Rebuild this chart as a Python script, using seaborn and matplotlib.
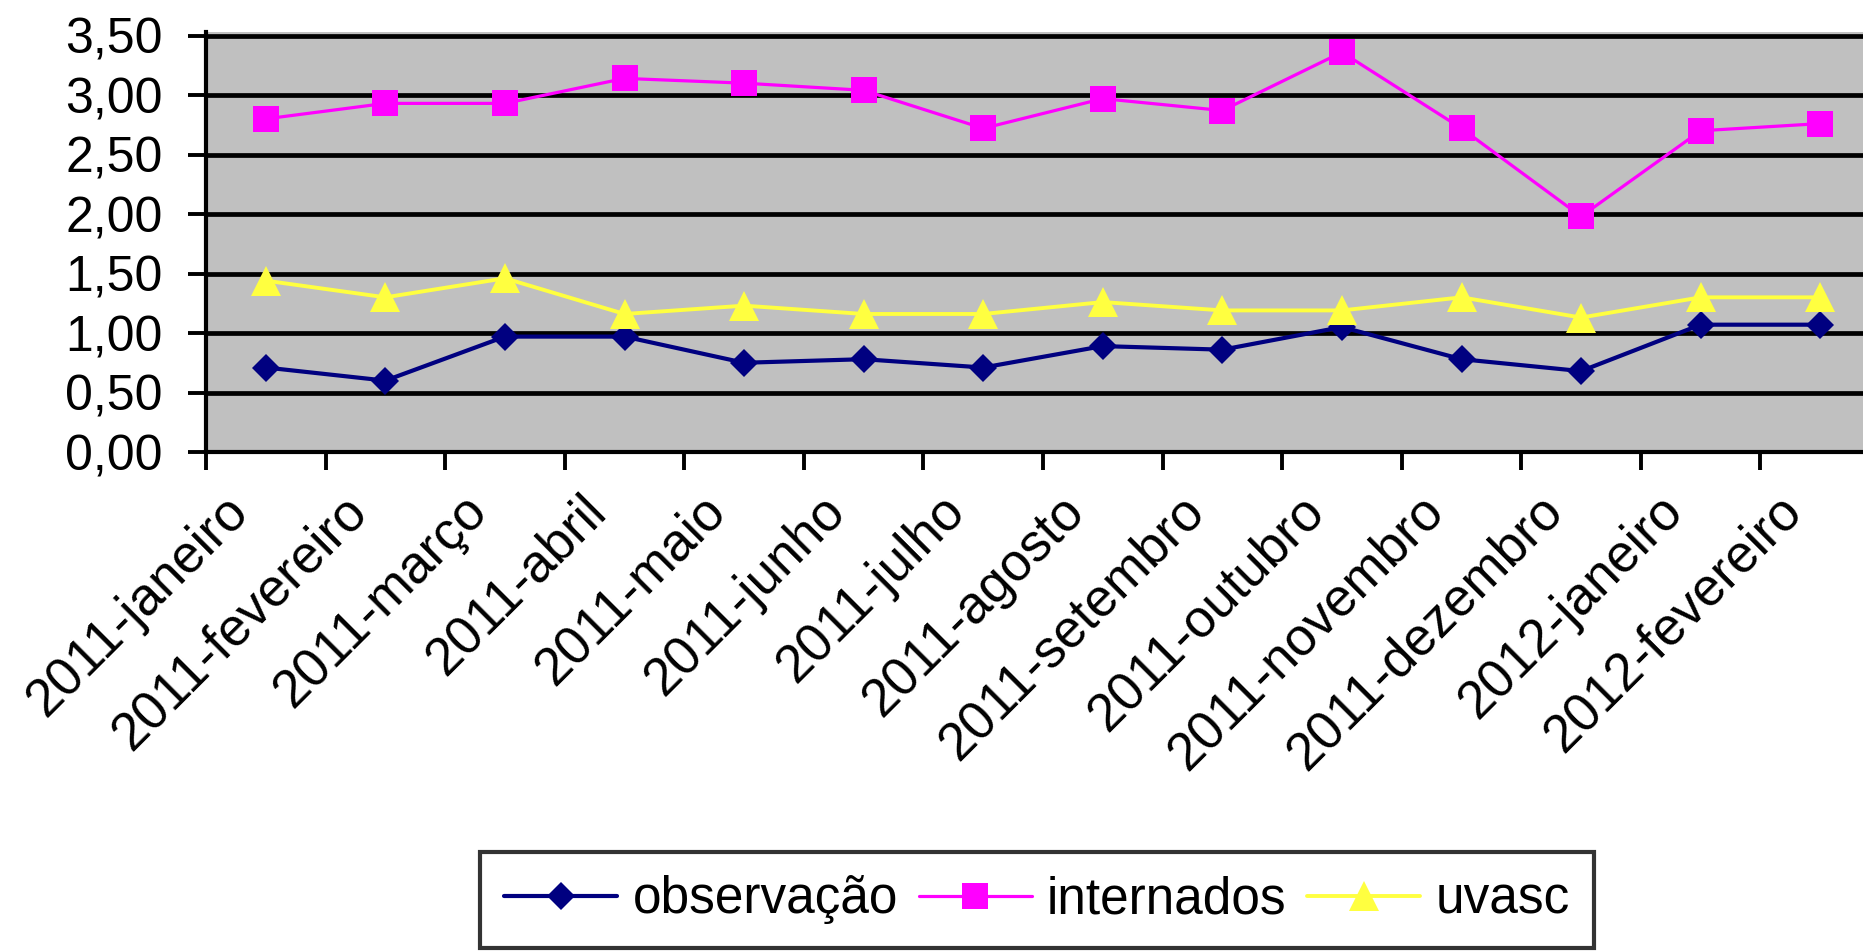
import numpy as np
import pandas as pd
import seaborn as sns
import matplotlib
matplotlib.use("Agg")
import matplotlib.pyplot as plt
from matplotlib.ticker import FixedLocator, FuncFormatter
from matplotlib.transforms import ScaledTranslation

# Monthly rates per sector
months = ["2011-janeiro", "2011-fevereiro", "2011-março", "2011-abril", "2011-maio",
          "2011-junho", "2011-julho", "2011-agosto", "2011-setembro", "2011-outubro",
          "2011-novembro", "2011-dezembro", "2012-janeiro", "2012-fevereiro"]
observacao = [0.71, 0.60, 0.97, 0.97, 0.75, 0.78, 0.71, 0.89, 0.86, 1.05, 0.78, 0.68, 1.07, 1.07]
internados = [2.80, 2.93, 2.93, 3.14, 3.10, 3.04, 2.72, 2.97, 2.87, 3.36, 2.72, 1.98, 2.70, 2.76]
uvasc = [1.44, 1.30, 1.46, 1.16, 1.23, 1.16, 1.16, 1.26, 1.19, 1.19, 1.30, 1.13, 1.30, 1.30]

series_names = ["observação", "internados", "uvasc"]
series_values = [observacao, internados, uvasc]
colors = ["#000080", "#FF00FF", "#FFFF40"]
markers = ["D", "s", "^"]
marker_sizes = [14.5, 18.5, 21]
line_widths = [3.0, 2.3, 2.8]

sns.set_style("white")
plt.rcParams["font.family"] = ["Liberation Sans", "DejaVu Sans"]
plt.rcParams["text.color"] = "black"
plt.rcParams["xtick.color"] = "black"
plt.rcParams["ytick.color"] = "black"
plt.rcParams["axes.labelcolor"] = "black"

fig = plt.figure(figsize=(18.63, 9.51), dpi=100)
W, H = 1863, 951
ax = fig.add_axes([206 / W, (H - 452) / H, 1674 / W, 420 / H])
ax.set_facecolor("#C0C0C0")

for name, vals, col, mk, ms, lw in zip(series_names, series_values, colors,
                                         markers, marker_sizes, line_widths):
    df = pd.DataFrame({"mes": months, "valor": vals})
    sns.lineplot(data=df, x="mes", y="valor", ax=ax, sort=False, color=col,
                 marker=mk, markersize=ms, markeredgecolor=col, markerfacecolor=col,
                 markeredgewidth=0, linewidth=lw, label=name, zorder=3)

ax.set_xlim(-0.5, len(months) - 0.5)
ax.set_ylim(0, 3.53)
ax.set_xlabel("")
ax.set_ylabel("")

# y axis: gridlines every 0.5, comma decimal labels
ax.yaxis.set_major_locator(FixedLocator(np.arange(0, 3.51, 0.5)))
ax.yaxis.set_major_formatter(FuncFormatter(lambda v, p: f"{v:.2f}".replace(".", ",")))
ax.yaxis.grid(True, color="black", linewidth=3.4)
ax.xaxis.grid(False)
ax.set_axisbelow(True)
ax.tick_params(axis="y", which="major", direction="out", length=13, width=2.8,
               color="black", labelcolor="black", labelsize=36, pad=18, left=True)

# x axis: tick marks between categories, labels at category centres
ax.set_xticks(np.arange(-0.5, len(months), 1.0))
ax.set_xticklabels([])
ax.set_xticks(np.arange(len(months)), labels=months, minor=True)
ax.tick_params(axis="x", which="major", direction="out", length=13, width=2.8,
               color="black", bottom=True)
ax.tick_params(axis="x", which="minor", length=0, labelsize=38, pad=37,
               labelcolor="black")
offset = ScaledTranslation(-0.26, 0, fig.dpi_scale_trans)
for lab in ax.get_xticklabels(minor=True):
    lab.set_rotation(45)
    lab.set_ha("right")
    lab.set_va("center")
    lab.set_rotation_mode("anchor")
    lab.set_transform(lab.get_transform() + offset)

for side in ["top", "right"]:
    ax.spines[side].set_visible(False)
for side in ["left", "bottom"]:
    ax.spines[side].set_color("black")
    ax.spines[side].set_linewidth(3.0)
    ax.spines[side].set_zorder(4)

leg = ax.legend(loc="center", bbox_to_anchor=(1037 / W, (H - 900) / H),
                bbox_transform=fig.transFigure, ncol=3, fontsize=37,
                frameon=True, fancybox=False, edgecolor="black",
                handlelength=2.2, handletextpad=0.3, columnspacing=0.4,
                borderpad=0.46, borderaxespad=0, numpoints=1)
leg.get_frame().set_linewidth(3.0)
for t in leg.get_texts():
    t.set_color("black")

fig.savefig("out.png", dpi=100, facecolor="white")
